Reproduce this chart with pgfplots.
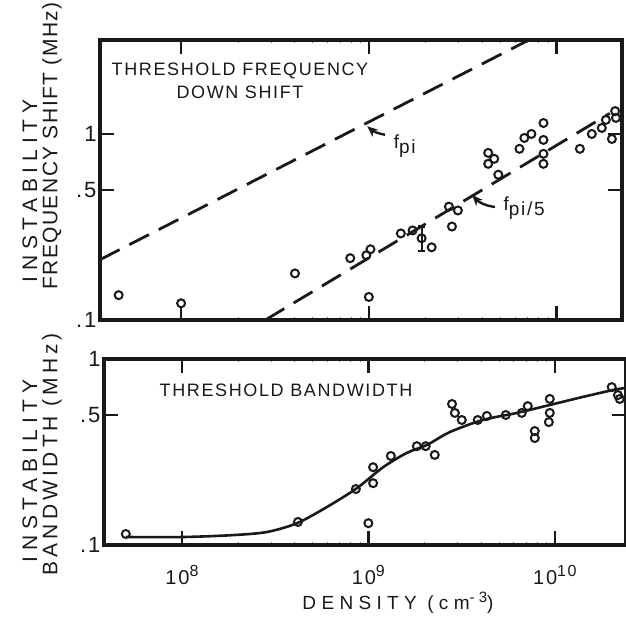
\documentclass[border=0pt]{standalone}
\usepackage{fontspec}
\setmainfont{Liberation Sans}
\newfontfamily\lettering[LetterSpace=9]{Liberation Sans}
\usepackage{pgfplots}
\usepackage{pgfplotstable}
\pgfplotsset{compat=1.18}
\usetikzlibrary{arrows.meta}
\definecolor{ink}{gray}{0.1}

% measured frequency down-shift at threshold
\pgfplotstableread{
n f
4.65e7 0.136
1.00e8 0.123
4.04e8 0.178
7.96e8 0.215
9.70e8 0.223
1.02e9 0.240
1.00e9 0.133
1.48e9 0.292
1.71e9 0.303
1.91e9 0.275
2.16e9 0.246
2.67e9 0.407
2.98e9 0.388
2.77e9 0.318
4.89e9 0.604
4.32e9 0.791
4.32e9 0.691
4.65e9 0.735
6.34e9 0.832
6.73e9 0.952
7.34e9 1.000
8.51e9 1.145
8.51e9 0.929
8.51e9 0.782
8.51e9 0.691
1.33e10 0.832
1.54e10 1.000
1.74e10 1.077
1.83e10 1.190
2.05e10 1.327
2.07e10 1.220
1.97e10 0.940
}\shiftdata

% measured bandwidth at threshold
\pgfplotstableread{
n b
5.00e7 0.1146
4.19e8 0.133
8.57e8 0.200
1.06e9 0.262
1.06e9 0.215
1.00e9 0.131
1.32e9 0.301
1.82e9 0.340
2.03e9 0.340
2.27e9 0.305
2.81e9 0.573
2.91e9 0.513
3.17e9 0.470
3.86e9 0.470
4.32e9 0.494
5.46e9 0.500
6.65e9 0.513
7.16e9 0.558
7.81e9 0.410
7.81e9 0.376
9.40e9 0.610
9.40e9 0.513
9.29e9 0.458
2.02e10 0.706
2.18e10 0.640
2.23e10 0.610
}\bwdata

% hand-drawn trend of the bandwidth
\pgfplotstableread{
n b
5.00e7 0.1104
1.01e8 0.1104
1.87e8 0.1130
2.86e8 0.1175
4.14e8 0.131
5.99e8 0.160
8.67e8 0.202
1.20e9 0.262
1.61e9 0.313
2.06e9 0.345
2.74e9 0.405
4.11e9 0.470
6.26e9 0.513
9.40e9 0.566
1.41e10 0.625
2.05e10 0.681
2.41e10 0.700
}\bwcurve

\pgfplotsset{
  every axis/.append style={
    scale only axis, xmode=log, ymode=log,
    width=522pt, clip=false,
    axis line style={draw=ink, line width=3.5pt},
    major tick style={draw=ink, line width=2.6pt},
    major tick length=14pt,
    tick align=inside,
    xtick={1e8,1e9,1e10},
    minor tick num=0,
    ytick={0.1,0.5,1},
    yticklabels={.1,.5,1},
    yticklabel style={font=\lettering\fontsize{22}{22}\selectfont, text=ink},
  },
}

\begin{document}
\begin{tikzpicture}
\path[use as bounding box] (0pt,0pt) rectangle (626pt,616pt);

% upper panel: frequency shift
\begin{axis}[
  at={(100pt,296pt)}, anchor=south west,
  height=280pt,
  xmin=3.7e7, xmax=2.23e10,
  ymin=0.1, ymax=3.2,
  xticklabels={},
]
% frame and inward ticks
\addplot[ink, line width=3.5pt, line join=miter, forget plot]
  coordinates {(3.7e7,0.1) (2.23e10,0.1) (2.23e10,3.2) (3.7e7,3.2) (3.7e7,0.1) (2.23e10,0.1)};
\addplot[ink, line width=2.6pt, forget plot] coordinates {(1e8,0.1) (1e8,0.119)};
\addplot[ink, line width=2.6pt, forget plot] coordinates {(1e9,0.1) (1e9,0.119)};
\addplot[ink, line width=2.6pt, forget plot] coordinates {(1e10,0.1) (1e10,0.119)};
\addplot[ink, line width=2.6pt, forget plot] coordinates {(1e8,3.2) (1e8,2.69)};
\addplot[ink, line width=2.6pt, forget plot] coordinates {(1e9,3.2) (1e9,2.69)};
\addplot[ink, line width=2.6pt, forget plot] coordinates {(1e10,3.2) (1e10,2.69)};
\addplot[ink, line width=2.6pt, forget plot] coordinates {(3.7e7,0.5) (4.4e7,0.5)};
\addplot[ink, line width=2.6pt, forget plot] coordinates {(3.7e7,1) (4.4e7,1)};
\addplot[ink, line width=2.6pt, forget plot] coordinates {(2.23e10,0.5) (1.87e10,0.5)};
% guide lines and measurements
\addplot[ink, line width=2.8pt, dash pattern=on 22pt off 11pt]
  coordinates {(3.7e7,0.211) (7.11e9,3.2)};
\addplot[ink, line width=2.8pt, dash pattern=on 22pt off 11pt]
  coordinates {(2.81e8,0.1) (1.92e10,1.29)};
\addplot[only marks, mark=o, mark size=4pt, mark options={line width=2pt, ink}]
  table[x=n, y=f] {\shiftdata};
\addplot[ink, line width=2.2pt, mark=-, mark size=3.5pt]
  coordinates {(1.91e9,0.318) (1.91e9,0.236)};
\draw[ink, line width=2.4pt, -{Stealth[length=11pt, width=9pt]}]
  (axis cs:1.22e9,0.99) to[bend left=15] (axis cs:9.8e8,1.10);
\node[anchor=west, text=ink, font=\lettering\fontsize{19}{19}\selectfont]
  at (axis cs:1.30e9,0.86) {f\raisebox{-5pt}{pi}};
\draw[ink, line width=2.4pt, -{Stealth[length=11pt, width=9pt]}]
  (axis cs:4.7e9,0.405) to[bend left=20] (axis cs:3.55e9,0.47);
\node[anchor=west, text=ink, font=\lettering\fontsize{19}{19}\selectfont]
  at (axis cs:5.0e9,0.40) {f\raisebox{-5pt}{pi/5}};
\end{axis}

% lower panel: bandwidth
\begin{axis}[
  at={(104pt,71pt)}, anchor=south west,
  height=186pt,
  xmin=3.82e7, xmax=2.41e10,
  ymin=0.1, ymax=1,
  xticklabel style={font=\lettering\fontsize{20}{20}\selectfont, text=ink, yshift=-17pt},
  xticklabels={10\raisebox{8pt}{\fontsize{16}{16}\selectfont 8},
               10\raisebox{8pt}{\fontsize{16}{16}\selectfont 9},
               10\raisebox{8pt}{\fontsize{16}{16}\selectfont 10}},
]
% frame and inward ticks
\addplot[ink, line width=3.5pt, line join=miter, forget plot]
  coordinates {(3.82e7,0.1) (2.41e10,0.1) (2.41e10,1) (3.82e7,1) (3.82e7,0.1) (2.41e10,0.1)};
\addplot[ink, line width=2.6pt, forget plot] coordinates {(1e8,0.1) (1e8,0.119)};
\addplot[ink, line width=2.6pt, forget plot] coordinates {(1e9,0.1) (1e9,0.119)};
\addplot[ink, line width=2.6pt, forget plot] coordinates {(1e10,0.1) (1e10,0.119)};
\addplot[ink, line width=2.6pt, forget plot] coordinates {(1e8,1) (1e8,0.84)};
\addplot[ink, line width=2.6pt, forget plot] coordinates {(1e9,1) (1e9,0.84)};
\addplot[ink, line width=2.6pt, forget plot] coordinates {(1e10,1) (1e10,0.84)};
\addplot[ink, line width=2.6pt, forget plot] coordinates {(3.82e7,0.5) (4.5e7,0.5)};
% trend and measurements
\addplot[ink, line width=2.6pt, smooth] table[x=n, y=b] {\bwcurve};
\addplot[only marks, mark=o, mark size=4pt, mark options={line width=2pt, ink}]
  table[x=n, y=b] {\bwdata};
\end{axis}

% panel titles and axis titles
\node[align=center, text=ink, font=\lettering\fontsize{18}{23}\selectfont]
  at (240pt,535pt) {THRESHOLD FREQUENCY\\DOWN SHIFT};
\node[text=ink, font=\lettering\fontsize{18}{18}\selectfont]
  at (286pt,226pt) {THRESHOLD BANDWIDTH};
\node[rotate=90, text=ink, font=\lettering\fontsize{21}{21}\selectfont\addfontfeature{LetterSpace=28}]
  at (30pt,425pt) {INSTABILITY};
\node[rotate=90, text=ink, font=\lettering\fontsize{21}{21}\selectfont\addfontfeature{LetterSpace=7}]
  at (52pt,470pt) {FREQUENCY SHIFT (MHz)};
\node[rotate=90, text=ink, font=\lettering\fontsize{21}{21}\selectfont\addfontfeature{LetterSpace=28}]
  at (30pt,145pt) {INSTABILITY};
\node[rotate=90, text=ink, font=\lettering\fontsize{21}{21}\selectfont\addfontfeature{LetterSpace=19}]
  at (52pt,162pt) {BANDWIDTH (MHz)};
\node[text=ink, font=\lettering\fontsize{19}{19}\selectfont\addfontfeature{LetterSpace=28}]
  at (398pt,13pt) {DENSITY (cm\raisebox{7pt}{\fontsize{15}{15}\selectfont -3})};
\end{tikzpicture}
\end{document}
